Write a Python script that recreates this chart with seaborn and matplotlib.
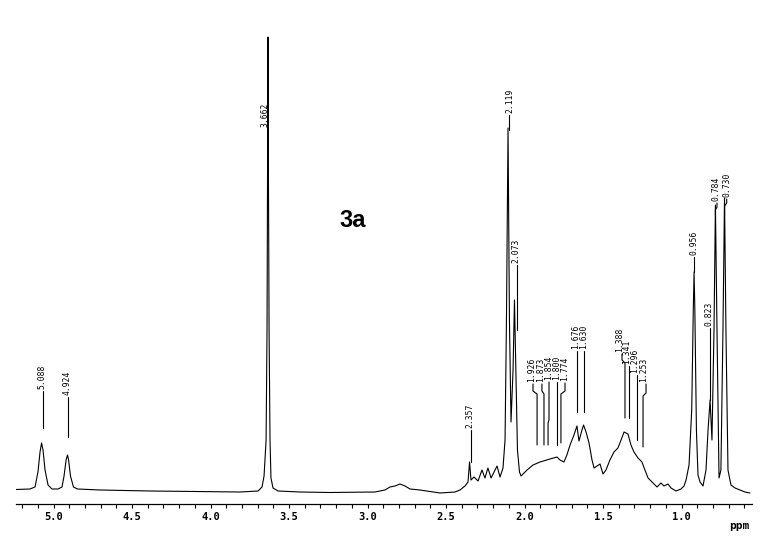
import numpy as np
import pandas as pd
import matplotlib
matplotlib.use('Agg')
import matplotlib.pyplot as plt
from matplotlib.ticker import MultipleLocator
import seaborn as sns

# 1H NMR trace of compound 3a (ppm, arbitrary intensity)
ppm = [5.239, 5.150, 5.118, 5.099, 5.086, 5.076, 5.067, 5.054, 5.035, 5.010,
       4.971, 4.946, 4.933, 4.920, 4.911, 4.904, 4.892, 4.873, 4.847, 4.704,
       4.385, 4.067, 3.812, 3.697, 3.672, 3.659, 3.646, 3.640, 3.637, 3.634,
       3.631, 3.627, 3.621, 3.615, 3.602, 3.570, 3.430, 3.239, 2.952, 2.889,
       2.857, 2.825, 2.793, 2.761, 2.729, 2.666, 2.538, 2.443, 2.411, 2.379,
       2.360, 2.350, 2.341, 2.322, 2.296, 2.271, 2.252, 2.233, 2.213, 2.194,
       2.175, 2.156, 2.137, 2.124, 2.115, 2.105, 2.096, 2.086, 2.073, 2.064,
       2.054, 2.045, 2.032, 2.022, 1.984, 1.946, 1.901, 1.838, 1.793, 1.774,
       1.749, 1.730, 1.710, 1.685, 1.666, 1.653, 1.634, 1.624, 1.608, 1.589,
       1.570, 1.557, 1.538, 1.519, 1.500, 1.481, 1.456, 1.430, 1.405, 1.385,
       1.366, 1.341, 1.322, 1.303, 1.277, 1.252, 1.233, 1.213, 1.188, 1.156,
       1.131, 1.112, 1.086, 1.067, 1.035, 1.003, 0.984, 0.971, 0.952, 0.935,
       0.925, 0.920, 0.915, 0.905, 0.895, 0.882, 0.863, 0.844, 0.831, 0.818,
       0.806, 0.793, 0.784, 0.774, 0.761, 0.749, 0.736, 0.726, 0.717, 0.704,
       0.685, 0.659, 0.627, 0.596, 0.564]
intensity = [0.5, 1, 3, 18, 38, 47, 40, 20, 5, 1,
             1, 3, 14, 30, 35, 30, 14, 3, 1, 0,
             -1, -1.5, -2, -1, 3, 14, 50, 160, 310, 453,
             310, 160, 50, 12, 2, -1, -2, -2.5, -2, 0,
             3, 4, 6, 4, 1, 0, -3, -2, 0, 4,
             8, 28, 10, 13, 9, 20, 12, 22, 12, 18,
             24, 13, 22, 50, 170, 362, 170, 68, 120, 190,
             110, 40, 18, 14, 20, 25, 28, 31, 33, 30,
             28, 35, 45, 55, 64, 49, 60, 65, 58, 47,
             30, 22, 24, 26, 16, 20, 30, 38, 42, 50,
             58, 56, 45, 38, 32, 28, 20, 12, 8, 3,
             7, 4, 6, 2, -1, 1, 4, 10, 25, 80,
             180, 218, 180, 60, 15, 8, 4, 20, 60, 90,
             50, 160, 285, 160, 12, 20, 160, 292, 160, 20,
             5, 2, 0, -2, -3]

# peak labels as printed on the spectrum
label_text = ['5.088', '4.924', '3.662', '2.357', '2.119', '2.073',
              '1.926', '1.873', '1.854', '1.800', '1.774',
              '1.676', '1.630',
              '1.388', '1.341', '1.296', '1.253',
              '0.956', '0.823', '0.784', '0.730']
peak_ppm = [5.070, 4.908, 3.634, 2.343, 2.099, 2.050,
            1.920, 1.876, 1.850, 1.793, 1.768,
            1.666, 1.621,
            1.360, 1.334, 1.283, 1.245,
            0.920, 0.818, 0.784, 0.726]

# label layout: text position, start of leader line, bend and end heights
text_ppm = [5.073, 4.911, 3.656, 2.347, 2.092, 2.054,
            1.952, 1.897, 1.846, 1.795, 1.746,
            1.678, 1.621,
            1.394, 1.347, 1.296, 1.239,
            0.920, 0.825, 0.780, 0.710]
stub_ppm = [5.070, 4.908, None, 2.343, 2.099, 2.050,
            1.946, 1.889, 1.844, 1.793, 1.742,
            1.666, 1.621,
            1.379, 1.334, 1.283, 1.226,
            0.920, 0.818, 0.774, 0.712]
text_base = [101, 95, 363, 62, 377, 227,
             108, 108, 110, 110, 109,
             141, 141,
             138, 126, 117, 108,
             235, 164, 289, 293]
bend_h = [80, 80, None, 50, 370, 200,
          99, 99, 70, 99, 99,
          120, 120,
          130, 110, 100, 97,
          225, 130, 283, 287]
end_h = [62, 53, None, 28, 360, 160,
         45, 45, 45, 45, 47,
         78, 78,
         72, 72, 50, 43,
         218, 90, 275, 275]

major_ticks = [5.0, 4.5, 4.0, 3.5, 3.0, 2.5, 2.0, 1.5, 1.0]
tick_labels = ['5.0', '4.5', '4.0', '3.5', '3.0', '2.5', '2.0', '1.5', '1.0']

df = pd.DataFrame({'ppm': ppm, 'intensity': intensity})

sns.set_theme(style='white')
plt.rcParams['font.family'] = ['DejaVu Sans']

fig = plt.figure(figsize=(7.7, 5.48), dpi=100)
W, H = 770, 548
ax = fig.add_axes([16 / W, (H - 504) / H, 736 / W, 474 / H])

sns.lineplot(data=df, x='ppm', y='intensity', ax=ax, color='black',
             linewidth=0.8, sort=False, estimator=None)

for i, txt in enumerate(label_text):
    ax.text(text_ppm[i], text_base[i], txt, rotation=90, ha='center', va='bottom',
            fontsize=5.8, family='DejaVu Sans Mono', color='black')
    if stub_ppm[i] is None:
        continue
    ax.plot([stub_ppm[i], stub_ppm[i], peak_ppm[i], peak_ppm[i]],
            [text_base[i] - 2, bend_h[i], bend_h[i] - 3, end_h[i]],
            color='black', linewidth=0.8)

ax.text(3.093, 270, '3a', ha='center', va='center', fontsize=17,
        fontweight='bold', family='Liberation Sans', color='black')

ax.set_xlim(5.239, 0.551)
ax.set_ylim(-14, 460)
ax.set_xticks(major_ticks)
ax.set_xticklabels(tick_labels, family='DejaVu Sans Mono', fontweight='bold')
ax.xaxis.set_minor_locator(MultipleLocator(0.1))
ax.tick_params(axis='x', which='both', direction='out', length=3, width=0.8,
               pad=3, labelsize=7.5, bottom=True, colors='black')
ax.set_yticks([])
ax.set_xlabel('')
ax.set_ylabel('')
for side in ['left', 'right', 'top']:
    ax.spines[side].set_visible(False)
ax.spines['bottom'].set_color('black')
ax.spines['bottom'].set_linewidth(0.9)

fig.text(739 / W, 1 - 526 / H, 'ppm', ha='center', va='center', fontsize=8,
         fontweight='bold', family='DejaVu Sans Mono', color='black')

fig.savefig('out.png', dpi=100, facecolor='white')
